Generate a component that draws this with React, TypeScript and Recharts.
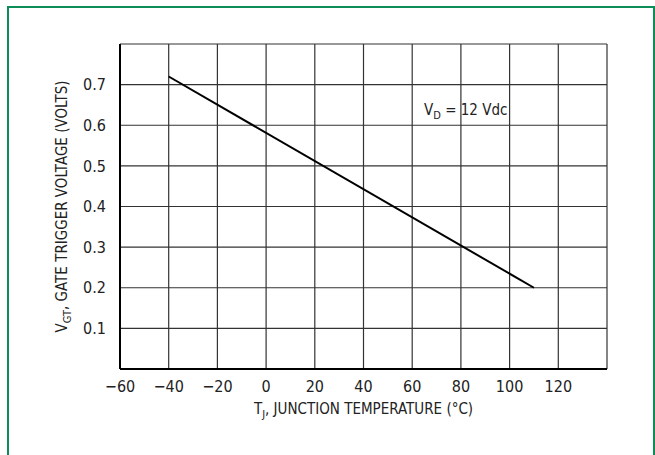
import { LineChart, Line, XAxis, YAxis, CartesianGrid, ReferenceDot } from "recharts";

// T_J (deg C) and V_GT (volts) at the ends of the curve
const temps = [-40, 110];
const vgt = [0.72, 0.2];

const xTicks = [-60, -40, -20, 0, 20, 40, 60, 80, 100, 120, 140];
const yTicks = [0, 0.1, 0.2, 0.3, 0.4, 0.5, 0.6, 0.7, 0.8];

const data = temps.map((t, i) => ({ t, v: vgt[i] }));

const FONT = "'Liberation Sans Narrow', 'DejaVu Sans Condensed', Arial, sans-serif";

const fmtX = (v: number) => (v === 140 ? "" : v < 0 ? "\u2212" + Math.abs(v) : String(v));
const fmtY = (v: number) => (v === 0 || v === 0.8 ? "" : v.toFixed(1));

const YLabel = (props: any) => {
  const vb = props.viewBox || {};
  const cy = vb.y + vb.height / 2;
  const x = 67;
  return (
    <text
      x={x}
      y={cy}
      transform={`rotate(-90, ${x}, ${cy})`}
      textAnchor="middle"
      fontFamily={FONT}
      fontSize={15}
      fill="#222"
    >
      V<tspan fontSize={11} dy={4}>GT</tspan>
      <tspan dy={-4}>, GATE TRIGGER VOLTAGE (VOLTS)</tspan>
    </text>
  );
};

const XLabel = (props: any) => {
  const vb = props.viewBox || {};
  const cx = vb.x + vb.width / 2;
  return (
    <text x={cx} y={414} textAnchor="middle" fontFamily={FONT} fontSize={15} fill="#222">
      T<tspan fontSize={11} dy={4}>J</tspan>
      <tspan dy={-4}>, JUNCTION TEMPERATURE (°C)</tspan>
    </text>
  );
};

const Note = (props: any) => (
  <text x={props.cx} y={props.cy} textAnchor="middle" fontFamily={FONT} fontSize={15} fill="#222">
    V<tspan fontSize={11} dy={4}>D</tspan>
    <tspan dy={-4}> = 12 Vdc</tspan>
  </text>
);

export default function App() {
  return (
    <div style={{ position: "absolute", left: 0, top: 0, width: 655, height: 455, background: "#fff" }}>
      <div
        style={{
          position: "absolute",
          left: 7,
          top: 6,
          width: 648,
          height: 460,
          border: "2px solid #0c8c56",
          boxSizing: "border-box",
        }}
      />
      <div style={{ position: "absolute", left: 0, top: 0 }}>
        <LineChart width={655} height={455} data={data} margin={{ top: 44, right: 48, left: 60, bottom: 56 }}>
          <CartesianGrid stroke="#333" strokeWidth={1.2} />
          <XAxis
            dataKey="t"
            type="number"
            domain={[-60, 140]}
            ticks={xTicks}
            tickFormatter={fmtX}
            tickLine={false}
            axisLine={{ stroke: "#000", strokeWidth: 2 }}
            tick={{ fill: "#222", fontSize: 16, fontFamily: FONT }}
            tickMargin={6}
            height={30}
            interval={0}
            label={<XLabel />}
          />
          <YAxis
            type="number"
            domain={[0, 0.8]}
            ticks={yTicks}
            tickFormatter={fmtY}
            tickLine={false}
            axisLine={{ stroke: "#000", strokeWidth: 2 }}
            tick={{ fill: "#222", fontSize: 16, fontFamily: FONT }}
            tickMargin={8}
            width={60}
            interval={0}
            label={<YLabel />}
          />
          <Line
            dataKey="v"
            stroke="#000"
            strokeWidth={2}
            dot={false}
            isAnimationActive={false}
          />
          <ReferenceDot x={82} y={0.625} r={0} shape={<Note />} />
        </LineChart>
      </div>
    </div>
  );
}
